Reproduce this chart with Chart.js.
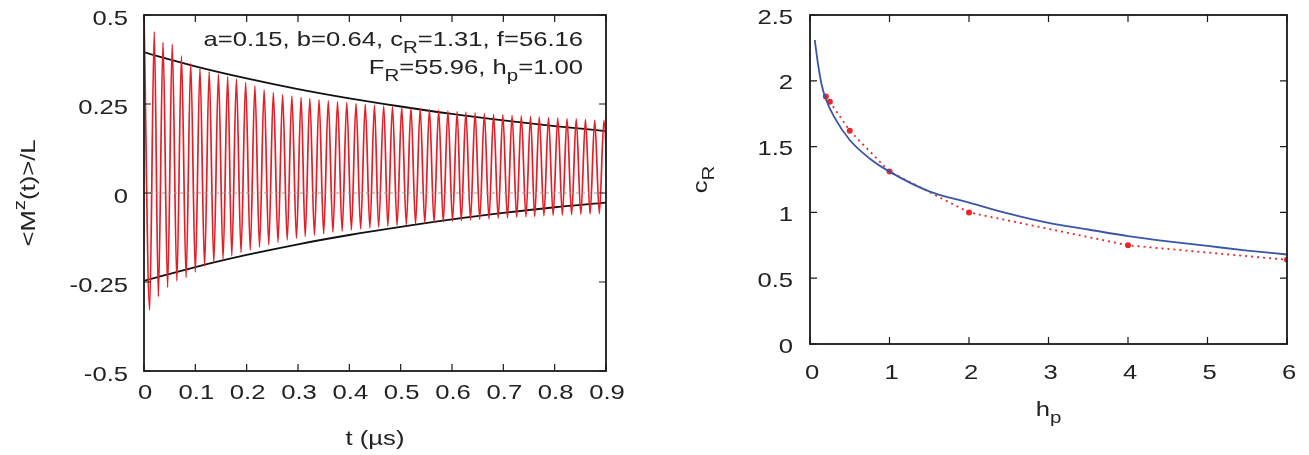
<!DOCTYPE html>
<html>
<head>
<meta charset="utf-8">
<script src="https://cdn.jsdelivr.net/npm/chart.js@4.4.0/dist/chart.umd.min.js"></script>
<style>
  html, body { margin: 0; padding: 0; background: #fff; }
  #wrap { position: relative; width: 1309px; height: 455px; }
  #left { position: absolute; left: 0; top: 0; }
  #right { position: absolute; left: 650px; top: 0; }
</style>
</head>
<body>
<div id="wrap">
  <canvas id="left" width="650" height="455"></canvas>
  <canvas id="right" width="659" height="455"></canvas>
</div>
<script>
// ---- left panel: <M^z(t)>/L vs t ----
const peakT = [0.020,0.037,0.055,0.073,0.091,0.109,0.127,0.145,0.163,0.180,
               0.198,0.216,0.234,0.252,0.270,0.288,0.306,0.323,0.341,0.359,
               0.377,0.395,0.413,0.431,0.449,0.467,0.484,0.502,0.520,0.538,
               0.556,0.574,0.592,0.610,0.627,0.645,0.663,0.681,0.699,0.717,
               0.735,0.753,0.770,0.788,0.806,0.824,0.842,0.860,0.878,0.896];
const peakV = [0.453,0.423,0.418,0.385,0.364,0.350,0.341,0.334,0.327,0.320,
               0.310,0.300,0.290,0.282,0.276,0.272,0.268,0.265,0.262,0.259,
               0.256,0.254,0.251,0.249,0.247,0.245,0.243,0.241,0.239,0.237,
               0.235,0.233,0.231,0.229,0.227,0.225,0.223,0.221,0.220,0.218,
               0.217,0.215,0.214,0.212,0.211,0.209,0.208,0.207,0.205,0.204];
const troughT = [0.011,0.028,0.046,0.064,0.082,0.100,0.118,0.136,0.154,0.171,
                 0.189,0.207,0.225,0.243,0.261,0.279,0.297,0.314,0.332,0.350,
                 0.368,0.386,0.404,0.422,0.440,0.457,0.475,0.493,0.511,0.529,
                 0.547,0.565,0.583,0.601,0.618,0.636,0.654,0.672,0.690,0.708,
                 0.726,0.744,0.761,0.779,0.797,0.815,0.833,0.851,0.869,0.887,0.905];
const troughV = [-0.329,-0.291,-0.265,-0.247,-0.237,-0.222,-0.205,-0.195,-0.185,-0.176,
                 -0.167,-0.160,-0.152,-0.145,-0.138,-0.132,-0.127,-0.122,-0.118,-0.114,
                 -0.110,-0.107,-0.104,-0.101,-0.098,-0.096,-0.093,-0.091,-0.089,-0.087,
                 -0.085,-0.083,-0.081,-0.079,-0.078,-0.076,-0.074,-0.073,-0.071,-0.070,
                 -0.068,-0.067,-0.066,-0.064,-0.063,-0.062,-0.061,-0.060,-0.059,-0.058,-0.057];
const startT = 0, startV = 0.5;

const envT  = [0, 0.1, 0.2, 0.3, 0.4, 0.5, 0.6, 0.7, 0.8, 0.9];
const envUp = [0.395, 0.356, 0.322, 0.292, 0.266, 0.243, 0.222, 0.204, 0.188, 0.174];
const envLo = [-0.247, -0.208, -0.174, -0.144, -0.118, -0.095, -0.074, -0.056, -0.040, -0.027];

const leftXTicks  = [0, 0.1, 0.2, 0.3, 0.4, 0.5, 0.6, 0.7, 0.8, 0.9];
const leftXLabels = ['0','0.1','0.2','0.3','0.4','0.5','0.6','0.7','0.8','0.9'];
const leftYTicks  = [-0.5, -0.25, 0, 0.25, 0.5];
const leftYLabels = ['-0.5','-0.25','0','0.25','0.5'];

// ---- right panel: c_R vs h_p ----
const fitH = [0.06, 0.1, 0.15, 0.2, 0.3, 0.5, 0.75, 1, 1.5, 2, 2.5, 3, 3.5, 4, 4.5, 5, 5.5, 6];
const fitC = [2.31, 2.13, 1.96, 1.86, 1.73, 1.55, 1.41, 1.31, 1.16, 1.075, 0.99, 0.92, 0.87, 0.82, 0.78, 0.745, 0.71, 0.68];
const simH = [0.2, 0.25, 0.5, 1, 2, 4, 6];
const simC = [1.88, 1.84, 1.62, 1.31, 1.0, 0.75, 0.64];

const rightXTicks  = [0, 1, 2, 3, 4, 5, 6];
const rightXLabels = ['0','1','2','3','4','5','6'];
const rightYTicks  = [0, 0.5, 1, 1.5, 2, 2.5];
const rightYLabels = ['0','0.5','1','1.5','2','2.5'];

const FONT = '"Liberation Sans", Arial, Helvetica, sans-serif';
const FS = 21;      // font size
const SX = 1.22;    // glyphs in the reference are wider than plain Helvetica
const INK = '#222';

// text with sub/superscripts; segs: [{t, s}] s=-1 sub, 1 sup
function drawRich(ctx, segs, x, y, align, rot) {
  ctx.save();
  ctx.translate(x, y);
  if (rot) ctx.rotate(rot);
  ctx.scale(SX, 1);
  ctx.textBaseline = 'alphabetic';
  ctx.textAlign = 'left';
  let w = 0;
  segs.forEach(sg => {
    ctx.font = (sg.s ? FS * 0.8 : FS) + 'px ' + FONT;
    w += ctx.measureText(sg.t).width;
  });
  let cx = align === 'right' ? -w : align === 'center' ? -w / 2 : 0;
  segs.forEach(sg => {
    ctx.font = (sg.s ? FS * 0.8 : FS) + 'px ' + FONT;
    const dy = sg.s === -1 ? FS * 0.35 : sg.s === 1 ? -FS * 0.5 : 0;
    ctx.fillText(sg.t, cx, dy);
    cx += ctx.measureText(sg.t).width;
  });
  ctx.restore();
}

// gnuplot-like box, inward ticks, labels and titles
const gnuFrame = {
  id: 'gnuFrame',
  afterDatasetsDraw(chart, args, o) {
    const ctx = chart.ctx, a = chart.chartArea;
    const xs = chart.scales.x, ys = chart.scales.y;
    ctx.save();
    ctx.strokeStyle = '#1a1a1a';
    ctx.lineWidth = 1.2;
    ctx.beginPath();
    o.xTicks.forEach(v => {
      const px = xs.getPixelForValue(v);
      ctx.moveTo(px, a.bottom); ctx.lineTo(px, a.bottom - 7);
      ctx.moveTo(px, a.top); ctx.lineTo(px, a.top + 7);
    });
    o.yTicks.forEach(v => {
      const py = ys.getPixelForValue(v);
      ctx.moveTo(a.left, py); ctx.lineTo(a.left + 7, py);
      ctx.moveTo(a.right, py); ctx.lineTo(a.right - 7, py);
    });
    ctx.stroke();
    ctx.lineWidth = 1.8;
    ctx.strokeRect(a.left, a.top, a.right - a.left, a.bottom - a.top);

    ctx.fillStyle = INK;
    o.xTicks.forEach((v, i) => drawRich(ctx, [{t: o.xLabels[i]}], xs.getPixelForValue(v) + o.xDx, o.xBase, 'center', 0));
    o.yTicks.forEach((v, i) => drawRich(ctx, [{t: o.yLabels[i]}], a.left - o.yGap, ys.getPixelForValue(v) + o.yDy, 'right', 0));
    drawRich(ctx, o.xTitle, (a.left + a.right) / 2, o.xTitleBase, 'center', 0);
    drawRich(ctx, o.yTitle, o.yTitleBase, (a.top + a.bottom) / 2, 'center', -Math.PI / 2);
    (o.notes || []).forEach(n => drawRich(ctx, n.segs, n.x, n.y, 'right', 0));
    ctx.restore();
  }
};

function pts(xs, ys) { return xs.map((x, i) => ({x: x, y: ys[i]})); }

const signal = [{x: startT, y: startV}];
troughT.forEach((t, i) => {
  signal.push({x: t, y: troughV[i]});
  if (i < peakT.length) signal.push({x: peakT[i], y: peakV[i]});
});

function baseOptions(xMin, xMax, yMin, yMax, yWidth, xHeight, padRight, frame) {
  return {
    responsive: false,
    animation: false,
    layout: { padding: { top: 15, right: padRight, left: 0, bottom: 0 } },
    plugins: { legend: { display: false }, tooltip: { enabled: false }, gnuFrame: frame },
    scales: {
      x: { type: 'linear', min: xMin, max: xMax,
           ticks: { display: false }, grid: { display: false, drawTicks: false }, border: { display: false },
           afterFit: s => { s.height = xHeight; } },
      y: { type: 'linear', min: yMin, max: yMax,
           ticks: { display: false }, grid: { display: false, drawTicks: false }, border: { display: false },
           afterFit: s => { s.width = yWidth; } }
    }
  };
}

new Chart(document.getElementById('left'), {
  type: 'scatter',
  data: {
    datasets: [
      { data: pts([0, 0.9], [0, 0]), showLine: true, borderColor: '#9a9a9a', borderWidth: 1,
        borderDash: [3, 3], pointRadius: 0 },
      { data: signal, showLine: true, borderColor: 'rgb(228,30,38)', borderWidth: 1.7,
        cubicInterpolationMode: 'monotone', pointRadius: 0 },
      { data: pts(envT, envUp), showLine: true, borderColor: '#111', borderWidth: 1.8,
        cubicInterpolationMode: 'monotone', pointRadius: 0 },
      { data: pts(envT, envLo), showLine: true, borderColor: '#111', borderWidth: 1.8,
        cubicInterpolationMode: 'monotone', pointRadius: 0 }
    ]
  },
  options: baseOptions(0, 0.9, -0.5, 0.5, 144, 84, 44, {
    xTicks: leftXTicks, xLabels: leftXLabels, yTicks: leftYTicks, yLabels: leftYLabels,
    xDx: 1, xBase: 399, yGap: 16, yDy: 9.5,
    xTitle: [{t: 't (\u00b5s)'}], xTitleBase: 445,
    yTitle: [{t: '<M'}, {t: 'z', s: 1}, {t: '(t)>/L'}], yTitleBase: 35,
    notes: [
      { x: 583, y: 45.5, segs: [{t: 'a=0.15, b=0.64, c'}, {t: 'R', s: -1}, {t: '=1.31, f=56.16'}] },
      { x: 583, y: 73.5, segs: [{t: 'F'}, {t: 'R', s: -1}, {t: '=55.96, h'}, {t: 'p', s: -1}, {t: '=1.00'}] }
    ]
  })
  , plugins: [gnuFrame]
});

new Chart(document.getElementById('right'), {
  type: 'scatter',
  data: {
    datasets: [
      { data: pts(fitH, fitC), showLine: true, borderColor: '#3a55a4', borderWidth: 1.8,
        cubicInterpolationMode: 'monotone', pointRadius: 0 },
      { data: pts(simH, simC), showLine: true, borderColor: 'rgb(232,38,44)', borderWidth: 1.8,
        borderDash: [2, 4], pointRadius: 3, pointBackgroundColor: 'rgb(232,38,44)',
        pointBorderWidth: 0 }
    ]
  },
  options: baseOptions(0, 6, 0, 2.5, 160, 111, 22, {
    xTicks: rightXTicks, xLabels: rightXLabels, yTicks: rightYTicks, yLabels: rightYLabels,
    xDx: 2, xBase: 379, yGap: 17, yDy: 8.5,
    xTitle: [{t: 'h'}, {t: 'p', s: -1}], xTitleBase: 416,
    yTitle: [{t: 'c'}, {t: 'R', s: -1}], yTitleBase: 57
  })
  , plugins: [gnuFrame]
});
</script>
</body>
</html>
